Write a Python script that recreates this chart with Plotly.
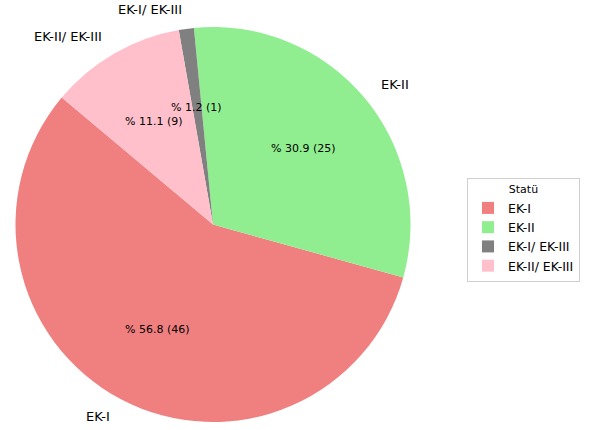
import math
import plotly.graph_objects as go

# Status categories and counts
labels = ["EK-I", "EK-II", "EK-I/ EK-III", "EK-II/ EK-III"]
counts = [46, 25, 1, 9]
colors = ["#F08080", "#90EE90", "#808080", "#FFC0CB"]

W, H = 589, 430
CX, CY, R = 213.0, 224.5, 197.5   # pie centre / radius in pixels
START_DEG = 140.0                 # first slice starts here, going counter-clockwise

total = sum(counts)
first_sweep = 360.0 * counts[0] / total

# Plotly's counter-clockwise pies put the *end* of the first slice at `rotation`
# (measured clockwise from 12 o'clock), so shift by the first slice's sweep.
rotation = 90.0 - (START_DEG + first_sweep)

fig = go.Figure(
    go.Pie(
        labels=labels,
        values=counts,
        marker=dict(colors=colors, line=dict(width=0)),
        sort=False,
        direction="counterclockwise",
        rotation=rotation,
        textinfo="none",
        hoverinfo="label+value+percent",
        domain=dict(
            x=[(CX - R) / W, (CX + R) / W],
            y=[1 - (CY + R) / H, 1 - (CY - R) / H],
        ),
    )
)


def to_paper(px, py):
    return px / W, 1 - py / H


annotations = []
angle = START_DEG
for lab, n in zip(labels, counts):
    sweep = 360.0 * n / total
    mid = math.radians(angle + sweep / 2)
    angle += sweep
    c, s = math.cos(mid), math.sin(mid)

    # category name just outside the rim
    lx, ly = to_paper(CX + 1.1 * R * c, CY - 1.1 * R * s)
    annotations.append(dict(
        x=lx, y=ly, xref="paper", yref="paper", text=lab, showarrow=False,
        xanchor="left" if c > 0 else "right", yanchor="middle",
        font=dict(size=13, color="black", family="DejaVu Sans"),
    ))

    # percentage and count inside the slice
    px_, py_ = to_paper(CX + 0.6 * R * c, CY - 0.6 * R * s)
    annotations.append(dict(
        x=px_, y=py_, xref="paper", yref="paper",
        text=f"% {100.0 * n / total:.1f} ({n})", showarrow=False,
        xanchor="center", yanchor="middle",
        font=dict(size=11, color="black", family="DejaVu Sans"),
    ))

fig.update_layout(
    width=W,
    height=H,
    margin=dict(l=0, r=0, t=0, b=0),
    paper_bgcolor="white",
    plot_bgcolor="white",
    font=dict(family="DejaVu Sans", color="black"),
    annotations=annotations,
    legend=dict(
        title=dict(text="Statü", side="top center", font=dict(size=11)),
        x=467 / W, y=1 - 178 / H, xanchor="left", yanchor="top",
        bordercolor="#d0d0d0", borderwidth=1, bgcolor="white",
        font=dict(size=12.5), itemwidth=30,
    ),
)

fig.write_html("out.html")
